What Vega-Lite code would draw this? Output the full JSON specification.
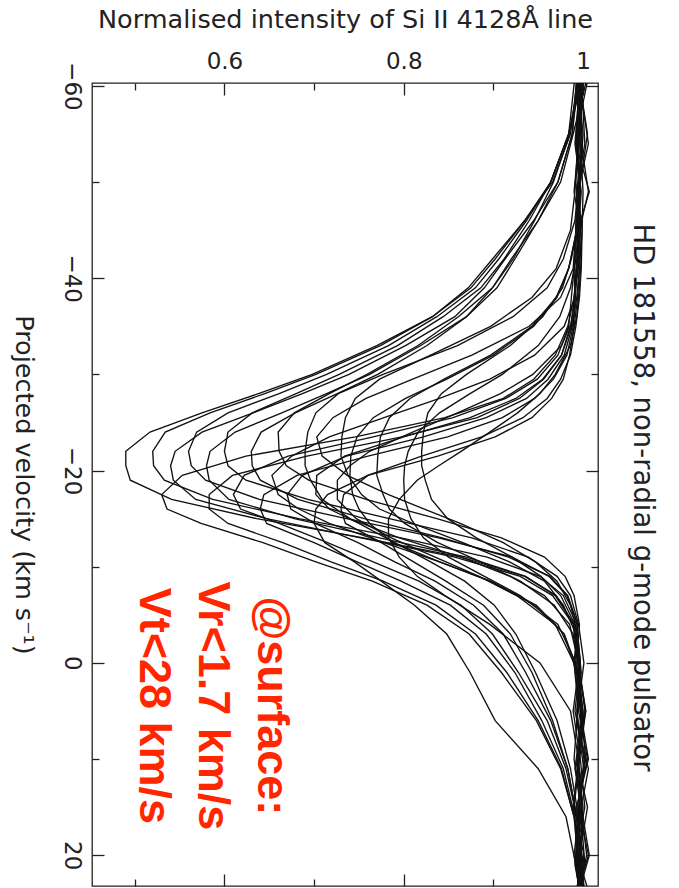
{
"$schema": "https://vega.github.io/schema/vega-lite/v6.json",
"width": 506,
"height": 803,
"autosize": {"type": "none"},
"padding": {"left": 92, "top": 83, "right": 81, "bottom": 2},
"background": "white",
"config": {
  "view": {"stroke": "#222", "strokeWidth": 1.3},
  "axis": {"domain": false, "grid": false, "labelFont": "DejaVu Sans", "titleFont": "DejaVu Sans", "labelColor": "#222", "titleColor": "#222", "tickColor": "#222", "tickWidth": 1.3, "labelFontSize": 23, "titleFontSize": 25, "titleFontWeight": "normal", "labelFlush": false, "labelOverlap": false}
},
"layer": [
{
  "data": {"values": [
{"s":"P1","v":-61,"i":0.994},{"s":"P1","v":-55,"i":0.986},{"s":"P1","v":-50,"i":0.966},{"s":"P1","v":-46,"i":0.935},{"s":"P1","v":-42,"i":0.899},{"s":"P1","v":-39,"i":0.872},{"s":"P1","v":-36,"i":0.832},{"s":"P1","v":-33,"i":0.77},{"s":"P1","v":-30,"i":0.698},{"s":"P1","v":-28,"i":0.638},{"s":"P1","v":-26,"i":0.575},{"s":"P1","v":-24,"i":0.517},{"s":"P1","v":-22,"i":0.49},{"s":"P1","v":-20.5,"i":0.49},{"s":"P1","v":-19,"i":0.495},{"s":"P1","v":-17,"i":0.541},{"s":"P1","v":-15,"i":0.636},{"s":"P1","v":-13,"i":0.755},{"s":"P1","v":-11,"i":0.864},{"s":"P1","v":-9,"i":0.935},{"s":"P1","v":-7,"i":0.97},{"s":"P1","v":-4,"i":0.99},{"s":"P1","v":0,"i":0.995},{"s":"P1","v":5,"i":1.003},{"s":"P1","v":10,"i":0.993},{"s":"P1","v":15,"i":1.005},{"s":"P1","v":20,"i":0.996},{"s":"P1","v":24,"i":0.998},
{"s":"P2","v":-61,"i":0.999},{"s":"P2","v":-55,"i":0.984},{"s":"P2","v":-50,"i":0.964},{"s":"P2","v":-46,"i":0.935},{"s":"P2","v":-42,"i":0.902},{"s":"P2","v":-39,"i":0.875},{"s":"P2","v":-36,"i":0.832},{"s":"P2","v":-33,"i":0.774},{"s":"P2","v":-30,"i":0.702},{"s":"P2","v":-28,"i":0.645},{"s":"P2","v":-26,"i":0.584},{"s":"P2","v":-24,"i":0.534},{"s":"P2","v":-22,"i":0.52},{"s":"P2","v":-20.5,"i":0.521},{"s":"P2","v":-19,"i":0.533},{"s":"P2","v":-17,"i":0.587},{"s":"P2","v":-15,"i":0.683},{"s":"P2","v":-13,"i":0.797},{"s":"P2","v":-11,"i":0.893},{"s":"P2","v":-9,"i":0.952},{"s":"P2","v":-7,"i":0.978},{"s":"P2","v":-4,"i":0.993},{"s":"P2","v":0,"i":0.997},{"s":"P2","v":5,"i":0.991},{"s":"P2","v":10,"i":1.002},{"s":"P2","v":15,"i":0.995},{"s":"P2","v":20,"i":1.006},{"s":"P2","v":24,"i":0.993},
{"s":"P3","v":-61,"i":0.993},{"s":"P3","v":-55,"i":0.988},{"s":"P3","v":-50,"i":0.972},{"s":"P3","v":-46,"i":0.945},{"s":"P3","v":-42,"i":0.913},{"s":"P3","v":-39,"i":0.89},{"s":"P3","v":-36,"i":0.857},{"s":"P3","v":-33,"i":0.802},{"s":"P3","v":-30,"i":0.739},{"s":"P3","v":-28,"i":0.687},{"s":"P3","v":-26,"i":0.632},{"s":"P3","v":-24,"i":0.575},{"s":"P3","v":-22,"i":0.545},{"s":"P3","v":-20.5,"i":0.54},{"s":"P3","v":-19,"i":0.543},{"s":"P3","v":-17,"i":0.568},{"s":"P3","v":-15,"i":0.647},{"s":"P3","v":-13,"i":0.752},{"s":"P3","v":-11,"i":0.857},{"s":"P3","v":-9,"i":0.93},{"s":"P3","v":-7,"i":0.966},{"s":"P3","v":-4,"i":0.989},{"s":"P3","v":0,"i":0.994},{"s":"P3","v":5,"i":1.003},{"s":"P3","v":10,"i":0.996},{"s":"P3","v":15,"i":0.99},{"s":"P3","v":20,"i":1.001},{"s":"P3","v":24,"i":0.997},
{"s":"P4","v":-61,"i":0.997},{"s":"P4","v":-55,"i":0.984},{"s":"P4","v":-50,"i":0.964},{"s":"P4","v":-46,"i":0.937},{"s":"P4","v":-42,"i":0.906},{"s":"P4","v":-39,"i":0.88},{"s":"P4","v":-36,"i":0.837},{"s":"P4","v":-33,"i":0.783},{"s":"P4","v":-30,"i":0.714},{"s":"P4","v":-28,"i":0.661},{"s":"P4","v":-26,"i":0.604},{"s":"P4","v":-24,"i":0.569},{"s":"P4","v":-22,"i":0.56},{"s":"P4","v":-20.5,"i":0.563},{"s":"P4","v":-19,"i":0.579},{"s":"P4","v":-17,"i":0.639},{"s":"P4","v":-15,"i":0.736},{"s":"P4","v":-13,"i":0.839},{"s":"P4","v":-11,"i":0.921},{"s":"P4","v":-9,"i":0.962},{"s":"P4","v":-7,"i":0.982},{"s":"P4","v":-4,"i":0.994},{"s":"P4","v":0,"i":0.99},{"s":"P4","v":5,"i":0.997},{"s":"P4","v":10,"i":1.006},{"s":"P4","v":15,"i":0.993},{"s":"P4","v":20,"i":0.998},{"s":"P4","v":24,"i":1.0},
{"s":"P5","v":-61,"i":1.005},{"s":"P5","v":-55,"i":0.989},{"s":"P5","v":-50,"i":0.975},{"s":"P5","v":-46,"i":0.95},{"s":"P5","v":-42,"i":0.92},{"s":"P5","v":-39,"i":0.899},{"s":"P5","v":-36,"i":0.87},{"s":"P5","v":-33,"i":0.819},{"s":"P5","v":-30,"i":0.762},{"s":"P5","v":-28,"i":0.714},{"s":"P5","v":-26,"i":0.664},{"s":"P5","v":-24,"i":0.612},{"s":"P5","v":-22,"i":0.584},{"s":"P5","v":-20.5,"i":0.58},{"s":"P5","v":-19,"i":0.583},{"s":"P5","v":-17,"i":0.605},{"s":"P5","v":-15,"i":0.678},{"s":"P5","v":-13,"i":0.773},{"s":"P5","v":-11,"i":0.87},{"s":"P5","v":-9,"i":0.936},{"s":"P5","v":-7,"i":0.969},{"s":"P5","v":-4,"i":0.99},{"s":"P5","v":0,"i":0.996},{"s":"P5","v":5,"i":0.989},{"s":"P5","v":10,"i":0.997},{"s":"P5","v":15,"i":1.002},{"s":"P5","v":20,"i":0.992},{"s":"P5","v":24,"i":0.996},
{"s":"P6","v":-61,"i":0.991},{"s":"P6","v":-55,"i":0.984},{"s":"P6","v":-50,"i":0.964},{"s":"P6","v":-46,"i":0.94},{"s":"P6","v":-42,"i":0.912},{"s":"P6","v":-39,"i":0.886},{"s":"P6","v":-36,"i":0.844},{"s":"P6","v":-33,"i":0.793},{"s":"P6","v":-30,"i":0.728},{"s":"P6","v":-28,"i":0.68},{"s":"P6","v":-26,"i":0.631},{"s":"P6","v":-24,"i":0.604},{"s":"P6","v":-22,"i":0.6},{"s":"P6","v":-20.5,"i":0.604},{"s":"P6","v":-19,"i":0.624},{"s":"P6","v":-17,"i":0.693},{"s":"P6","v":-15,"i":0.784},{"s":"P6","v":-13,"i":0.876},{"s":"P6","v":-11,"i":0.939},{"s":"P6","v":-9,"i":0.971},{"s":"P6","v":-7,"i":0.986},{"s":"P6","v":-4,"i":0.995},{"s":"P6","v":0,"i":1.001},{"s":"P6","v":5,"i":0.994},{"s":"P6","v":10,"i":0.99},{"s":"P6","v":15,"i":0.998},{"s":"P6","v":20,"i":1.004},{"s":"P6","v":24,"i":0.995},
{"s":"P7","v":-61,"i":0.995},{"s":"P7","v":-55,"i":0.988},{"s":"P7","v":-50,"i":0.972},{"s":"P7","v":-46,"i":0.95},{"s":"P7","v":-42,"i":0.924},{"s":"P7","v":-39,"i":0.904},{"s":"P7","v":-36,"i":0.87},{"s":"P7","v":-33,"i":0.826},{"s":"P7","v":-30,"i":0.771},{"s":"P7","v":-28,"i":0.726},{"s":"P7","v":-26,"i":0.679},{"s":"P7","v":-24,"i":0.641},{"s":"P7","v":-22,"i":0.63},{"s":"P7","v":-20.5,"i":0.631},{"s":"P7","v":-19,"i":0.64},{"s":"P7","v":-17,"i":0.682},{"s":"P7","v":-15,"i":0.756},{"s":"P7","v":-13,"i":0.843},{"s":"P7","v":-11,"i":0.917},{"s":"P7","v":-9,"i":0.963},{"s":"P7","v":-7,"i":0.983},{"s":"P7","v":-4,"i":0.994},{"s":"P7","v":0,"i":0.991},{"s":"P7","v":5,"i":1.0},{"s":"P7","v":10,"i":0.995},{"s":"P7","v":15,"i":0.989},{"s":"P7","v":20,"i":0.997},{"s":"P7","v":24,"i":1.002},
{"s":"P8","v":-61,"i":0.999},{"s":"P8","v":-55,"i":0.985},{"s":"P8","v":-50,"i":0.967},{"s":"P8","v":-46,"i":0.946},{"s":"P8","v":-42,"i":0.922},{"s":"P8","v":-39,"i":0.899},{"s":"P8","v":-36,"i":0.861},{"s":"P8","v":-33,"i":0.816},{"s":"P8","v":-30,"i":0.759},{"s":"P8","v":-28,"i":0.717},{"s":"P8","v":-26,"i":0.678},{"s":"P8","v":-24,"i":0.66},{"s":"P8","v":-22,"i":0.661},{"s":"P8","v":-20.5,"i":0.669},{"s":"P8","v":-19,"i":0.694},{"s":"P8","v":-17,"i":0.758},{"s":"P8","v":-15,"i":0.837},{"s":"P8","v":-13,"i":0.909},{"s":"P8","v":-11,"i":0.957},{"s":"P8","v":-9,"i":0.98},{"s":"P8","v":-7,"i":0.99},{"s":"P8","v":-4,"i":0.996},{"s":"P8","v":0,"i":0.993},{"s":"P8","v":5,"i":0.998},{"s":"P8","v":10,"i":1.003},{"s":"P8","v":15,"i":0.996},{"s":"P8","v":20,"i":0.99},{"s":"P8","v":24,"i":0.997},
{"s":"Q1","v":-61,"i":0.996},{"s":"Q1","v":-54,"i":0.992},{"s":"Q1","v":-49,"i":1.007},{"s":"Q1","v":-45,"i":0.994},{"s":"Q1","v":-41,"i":0.993},{"s":"Q1","v":-38,"i":0.99},{"s":"Q1","v":-35,"i":0.983},{"s":"Q1","v":-32,"i":0.969},{"s":"Q1","v":-29.5,"i":0.945},{"s":"Q1","v":-27.5,"i":0.911},{"s":"Q1","v":-25.5,"i":0.846},{"s":"Q1","v":-23.5,"i":0.746},{"s":"Q1","v":-21.5,"i":0.624},{"s":"Q1","v":-19.5,"i":0.553},{"s":"Q1","v":-17.5,"i":0.53},{"s":"Q1","v":-16,"i":0.536},{"s":"Q1","v":-14.5,"i":0.574},{"s":"Q1","v":-12.5,"i":0.643},{"s":"Q1","v":-10.5,"i":0.702},{"s":"Q1","v":-8.5,"i":0.765},{"s":"Q1","v":-6,"i":0.826},{"s":"Q1","v":-3,"i":0.873},{"s":"Q1","v":1,"i":0.909},{"s":"Q1","v":6,"i":0.948},{"s":"Q1","v":11,"i":0.975},{"s":"Q1","v":16,"i":0.99},{"s":"Q1","v":21,"i":0.995},{"s":"Q1","v":24,"i":0.999},
{"s":"Q2","v":-61,"i":0.998},{"s":"Q2","v":-54,"i":1.002},{"s":"Q2","v":-49,"i":0.993},{"s":"Q2","v":-45,"i":0.997},{"s":"Q2","v":-41,"i":0.992},{"s":"Q2","v":-38,"i":0.991},{"s":"Q2","v":-35,"i":0.986},{"s":"Q2","v":-32,"i":0.976},{"s":"Q2","v":-29.5,"i":0.956},{"s":"Q2","v":-27.5,"i":0.929},{"s":"Q2","v":-25.5,"i":0.882},{"s":"Q2","v":-23.5,"i":0.798},{"s":"Q2","v":-21.5,"i":0.692},{"s":"Q2","v":-19.5,"i":0.609},{"s":"Q2","v":-17.5,"i":0.583},{"s":"Q2","v":-16,"i":0.583},{"s":"Q2","v":-14.5,"i":0.604},{"s":"Q2","v":-12.5,"i":0.665},{"s":"Q2","v":-10.5,"i":0.719},{"s":"Q2","v":-8.5,"i":0.777},{"s":"Q2","v":-6,"i":0.836},{"s":"Q2","v":-3,"i":0.88},{"s":"Q2","v":1,"i":0.915},{"s":"Q2","v":6,"i":0.95},{"s":"Q2","v":11,"i":0.976},{"s":"Q2","v":16,"i":0.99},{"s":"Q2","v":21,"i":1.001},{"s":"Q2","v":24,"i":0.996},
{"s":"Q3","v":-61,"i":0.994},{"s":"Q3","v":-54,"i":0.999},{"s":"Q3","v":-49,"i":0.996},{"s":"Q3","v":-45,"i":0.992},{"s":"Q3","v":-41,"i":0.99},{"s":"Q3","v":-38,"i":0.987},{"s":"Q3","v":-35,"i":0.984},{"s":"Q3","v":-32,"i":0.972},{"s":"Q3","v":-29.5,"i":0.949},{"s":"Q3","v":-27.5,"i":0.914},{"s":"Q3","v":-25.5,"i":0.855},{"s":"Q3","v":-23.5,"i":0.766},{"s":"Q3","v":-21.5,"i":0.671},{"s":"Q3","v":-19.5,"i":0.622},{"s":"Q3","v":-17.5,"i":0.61},{"s":"Q3","v":-16,"i":0.618},{"s":"Q3","v":-14.5,"i":0.661},{"s":"Q3","v":-12.5,"i":0.715},{"s":"Q3","v":-10.5,"i":0.766},{"s":"Q3","v":-8.5,"i":0.817},{"s":"Q3","v":-6,"i":0.864},{"s":"Q3","v":-3,"i":0.899},{"s":"Q3","v":1,"i":0.928},{"s":"Q3","v":6,"i":0.96},{"s":"Q3","v":11,"i":0.981},{"s":"Q3","v":16,"i":0.993},{"s":"Q3","v":21,"i":0.995},{"s":"Q3","v":24,"i":1.002},
{"s":"Q4","v":-61,"i":1.001},{"s":"Q4","v":-54,"i":0.995},{"s":"Q4","v":-49,"i":0.99},{"s":"Q4","v":-45,"i":0.997},{"s":"Q4","v":-41,"i":0.993},{"s":"Q4","v":-38,"i":0.991},{"s":"Q4","v":-35,"i":0.989},{"s":"Q4","v":-32,"i":0.982},{"s":"Q4","v":-29.5,"i":0.967},{"s":"Q4","v":-27.5,"i":0.946},{"s":"Q4","v":-25.5,"i":0.91},{"s":"Q4","v":-23.5,"i":0.849},{"s":"Q4","v":-21.5,"i":0.76},{"s":"Q4","v":-19.5,"i":0.681},{"s":"Q4","v":-17.5,"i":0.644},{"s":"Q4","v":-16,"i":0.64},{"s":"Q4","v":-14.5,"i":0.647},{"s":"Q4","v":-12.5,"i":0.7},{"s":"Q4","v":-10.5,"i":0.748},{"s":"Q4","v":-8.5,"i":0.797},{"s":"Q4","v":-6,"i":0.852},{"s":"Q4","v":-3,"i":0.892},{"s":"Q4","v":1,"i":0.924},{"s":"Q4","v":6,"i":0.954},{"s":"Q4","v":11,"i":0.978},{"s":"Q4","v":16,"i":0.991},{"s":"Q4","v":21,"i":0.993},{"s":"Q4","v":24,"i":0.998},
{"s":"Q5","v":-61,"i":0.992},{"s":"Q5","v":-54,"i":0.997},{"s":"Q5","v":-49,"i":1.0},{"s":"Q5","v":-45,"i":0.999},{"s":"Q5","v":-41,"i":0.996},{"s":"Q5","v":-38,"i":0.993},{"s":"Q5","v":-35,"i":0.988},{"s":"Q5","v":-32,"i":0.979},{"s":"Q5","v":-29.5,"i":0.961},{"s":"Q5","v":-27.5,"i":0.937},{"s":"Q5","v":-25.5,"i":0.892},{"s":"Q5","v":-23.5,"i":0.822},{"s":"Q5","v":-21.5,"i":0.736},{"s":"Q5","v":-19.5,"i":0.687},{"s":"Q5","v":-17.5,"i":0.67},{"s":"Q5","v":-16,"i":0.674},{"s":"Q5","v":-14.5,"i":0.701},{"s":"Q5","v":-12.5,"i":0.749},{"s":"Q5","v":-10.5,"i":0.79},{"s":"Q5","v":-8.5,"i":0.835},{"s":"Q5","v":-6,"i":0.878},{"s":"Q5","v":-3,"i":0.911},{"s":"Q5","v":1,"i":0.936},{"s":"Q5","v":6,"i":0.964},{"s":"Q5","v":11,"i":0.983},{"s":"Q5","v":16,"i":0.993},{"s":"Q5","v":21,"i":1.0},{"s":"Q5","v":24,"i":0.994},
{"s":"Q6","v":-61,"i":0.997},{"s":"Q6","v":-54,"i":0.991},{"s":"Q6","v":-49,"i":0.998},{"s":"Q6","v":-45,"i":0.995},{"s":"Q6","v":-41,"i":0.994},{"s":"Q6","v":-38,"i":0.99},{"s":"Q6","v":-35,"i":0.987},{"s":"Q6","v":-32,"i":0.976},{"s":"Q6","v":-29.5,"i":0.955},{"s":"Q6","v":-27.5,"i":0.925},{"s":"Q6","v":-25.5,"i":0.874},{"s":"Q6","v":-23.5,"i":0.8},{"s":"Q6","v":-21.5,"i":0.734},{"s":"Q6","v":-19.5,"i":0.703},{"s":"Q6","v":-17.5,"i":0.702},{"s":"Q6","v":-16,"i":0.717},{"s":"Q6","v":-14.5,"i":0.75},{"s":"Q6","v":-12.5,"i":0.79},{"s":"Q6","v":-10.5,"i":0.83},{"s":"Q6","v":-8.5,"i":0.868},{"s":"Q6","v":-6,"i":0.901},{"s":"Q6","v":-3,"i":0.925},{"s":"Q6","v":1,"i":0.947},{"s":"Q6","v":6,"i":0.971},{"s":"Q6","v":11,"i":0.986},{"s":"Q6","v":16,"i":0.995},{"s":"Q6","v":21,"i":0.991},{"s":"Q6","v":24,"i":0.997},
{"s":"Q7","v":-61,"i":0.995},{"s":"Q7","v":-54,"i":1.006},{"s":"Q7","v":-49,"i":0.994},{"s":"Q7","v":-45,"i":0.999},{"s":"Q7","v":-41,"i":0.998},{"s":"Q7","v":-38,"i":0.996},{"s":"Q7","v":-35,"i":0.992},{"s":"Q7","v":-32,"i":0.986},{"s":"Q7","v":-29.5,"i":0.975},{"s":"Q7","v":-27.5,"i":0.96},{"s":"Q7","v":-25.5,"i":0.933},{"s":"Q7","v":-23.5,"i":0.887},{"s":"Q7","v":-21.5,"i":0.82},{"s":"Q7","v":-19.5,"i":0.76},{"s":"Q7","v":-17.5,"i":0.733},{"s":"Q7","v":-16,"i":0.73},{"s":"Q7","v":-14.5,"i":0.735},{"s":"Q7","v":-12.5,"i":0.775},{"s":"Q7","v":-10.5,"i":0.811},{"s":"Q7","v":-8.5,"i":0.847},{"s":"Q7","v":-6,"i":0.889},{"s":"Q7","v":-3,"i":0.919},{"s":"Q7","v":1,"i":0.943},{"s":"Q7","v":6,"i":0.966},{"s":"Q7","v":11,"i":0.983},{"s":"Q7","v":16,"i":0.993},{"s":"Q7","v":21,"i":0.998},{"s":"Q7","v":24,"i":0.992},
{"s":"Q8","v":-61,"i":0.999},{"s":"Q8","v":-54,"i":0.994},{"s":"Q8","v":-49,"i":0.997},{"s":"Q8","v":-45,"i":0.992},{"s":"Q8","v":-41,"i":0.996},{"s":"Q8","v":-38,"i":0.994},{"s":"Q8","v":-35,"i":0.99},{"s":"Q8","v":-32,"i":0.985},{"s":"Q8","v":-29.5,"i":0.978},{"s":"Q8","v":-27.5,"i":0.965},{"s":"Q8","v":-25.5,"i":0.943},{"s":"Q8","v":-23.5,"i":0.902},{"s":"Q8","v":-21.5,"i":0.838},{"s":"Q8","v":-19.5,"i":0.76},{"s":"Q8","v":-17.5,"i":0.715},{"s":"Q8","v":-16,"i":0.702},{"s":"Q8","v":-14.5,"i":0.7},{"s":"Q8","v":-12.5,"i":0.712},{"s":"Q8","v":-10.5,"i":0.745},{"s":"Q8","v":-8.5,"i":0.775},{"s":"Q8","v":-6,"i":0.812},{"s":"Q8","v":-3,"i":0.848},{"s":"Q8","v":1,"i":0.874},{"s":"Q8","v":6,"i":0.902},{"s":"Q8","v":11,"i":0.95},{"s":"Q8","v":16,"i":0.981},{"s":"Q8","v":21,"i":0.992},{"s":"Q8","v":24,"i":0.996},
{"s":"T1","v":-61,"i":0.995},{"s":"T1","v":-55,"i":1.005},{"s":"T1","v":-50,"i":0.997},{"s":"T1","v":-46,"i":0.995},{"s":"T1","v":-42,"i":0.987},{"s":"T1","v":-39,"i":0.977},{"s":"T1","v":-36,"i":0.955},{"s":"T1","v":-33,"i":0.919},{"s":"T1","v":-30,"i":0.87},{"s":"T1","v":-28,"i":0.842},{"s":"T1","v":-26,"i":0.827},{"s":"T1","v":-24,"i":0.822},{"s":"T1","v":-22,"i":0.82},{"s":"T1","v":-20.5,"i":0.82},{"s":"T1","v":-19,"i":0.824},{"s":"T1","v":-17,"i":0.831},{"s":"T1","v":-15,"i":0.849},{"s":"T1","v":-13,"i":0.881},{"s":"T1","v":-11,"i":0.921},{"s":"T1","v":-9,"i":0.953},{"s":"T1","v":-7,"i":0.975},{"s":"T1","v":-4,"i":0.991},{"s":"T1","v":0,"i":0.997},{"s":"T1","v":5,"i":0.993},{"s":"T1","v":10,"i":1.001},{"s":"T1","v":15,"i":0.996},{"s":"T1","v":20,"i":0.994},{"s":"T1","v":24,"i":0.999},
{"s":"T5","v":-61,"i":0.998},{"s":"T5","v":-55,"i":0.996},{"s":"T5","v":-50,"i":0.995},{"s":"T5","v":-46,"i":0.991},{"s":"T5","v":-42,"i":0.978},{"s":"T5","v":-39,"i":0.96},{"s":"T5","v":-36,"i":0.922},{"s":"T5","v":-33,"i":0.86},{"s":"T5","v":-30,"i":0.777},{"s":"T5","v":-28,"i":0.727},{"s":"T5","v":-26,"i":0.702},{"s":"T5","v":-24,"i":0.693},{"s":"T5","v":-22,"i":0.69},{"s":"T5","v":-20.5,"i":0.69},{"s":"T5","v":-19,"i":0.696},{"s":"T5","v":-17,"i":0.709},{"s":"T5","v":-15,"i":0.74},{"s":"T5","v":-13,"i":0.795},{"s":"T5","v":-11,"i":0.864},{"s":"T5","v":-9,"i":0.919},{"s":"T5","v":-7,"i":0.957},{"s":"T5","v":-4,"i":0.985},{"s":"T5","v":0,"i":0.995},{"s":"T5","v":5,"i":1.002},{"s":"T5","v":10,"i":0.994},{"s":"T5","v":15,"i":0.998},{"s":"T5","v":20,"i":1.007},{"s":"T5","v":24,"i":0.995},
{"s":"T2","v":-61,"i":0.997},{"s":"T2","v":-54,"i":0.993},{"s":"T2","v":-49,"i":0.997},{"s":"T2","v":-45,"i":0.993},{"s":"T2","v":-41,"i":0.984},{"s":"T2","v":-38,"i":0.97},{"s":"T2","v":-35,"i":0.943},{"s":"T2","v":-32,"i":0.897},{"s":"T2","v":-29.5,"i":0.845},{"s":"T2","v":-27.5,"i":0.807},{"s":"T2","v":-25.5,"i":0.784},{"s":"T2","v":-23.5,"i":0.774},{"s":"T2","v":-21.5,"i":0.771},{"s":"T2","v":-19.5,"i":0.77},{"s":"T2","v":-17.5,"i":0.777},{"s":"T2","v":-16,"i":0.784},{"s":"T2","v":-14.5,"i":0.801},{"s":"T2","v":-12.5,"i":0.838},{"s":"T2","v":-10.5,"i":0.886},{"s":"T2","v":-8.5,"i":0.93},{"s":"T2","v":-6,"i":0.968},{"s":"T2","v":-3,"i":0.989},{"s":"T2","v":1,"i":0.996},{"s":"T2","v":6,"i":1.0},{"s":"T2","v":11,"i":0.992},{"s":"T2","v":16,"i":0.998},{"s":"T2","v":21,"i":1.002},{"s":"T2","v":24,"i":0.995},
{"s":"T3","v":-61,"i":0.999},{"s":"T3","v":-54,"i":0.994},{"s":"T3","v":-49,"i":0.991},{"s":"T3","v":-45,"i":0.986},{"s":"T3","v":-41,"i":0.97},{"s":"T3","v":-38,"i":0.943},{"s":"T3","v":-35,"i":0.897},{"s":"T3","v":-32,"i":0.83},{"s":"T3","v":-29.5,"i":0.773},{"s":"T3","v":-27.5,"i":0.746},{"s":"T3","v":-25.5,"i":0.735},{"s":"T3","v":-23.5,"i":0.731},{"s":"T3","v":-21.5,"i":0.73},{"s":"T3","v":-19.5,"i":0.738},{"s":"T3","v":-17.5,"i":0.753},{"s":"T3","v":-16,"i":0.773},{"s":"T3","v":-14.5,"i":0.81},{"s":"T3","v":-12.5,"i":0.866},{"s":"T3","v":-10.5,"i":0.918},{"s":"T3","v":-8.5,"i":0.957},{"s":"T3","v":-6,"i":0.978},{"s":"T3","v":-3,"i":0.992},{"s":"T3","v":1,"i":0.997},{"s":"T3","v":6,"i":0.993},{"s":"T3","v":11,"i":1.001},{"s":"T3","v":16,"i":0.994},{"s":"T3","v":21,"i":0.997},{"s":"T3","v":24,"i":1.007},
{"s":"T4","v":-61,"i":1.006},{"s":"T4","v":-55,"i":0.993},{"s":"T4","v":-50,"i":0.996},{"s":"T4","v":-46,"i":0.992},{"s":"T4","v":-42,"i":0.992},{"s":"T4","v":-39,"i":0.986},{"s":"T4","v":-36,"i":0.974},{"s":"T4","v":-33,"i":0.95},{"s":"T4","v":-30,"i":0.91},{"s":"T4","v":-28,"i":0.874},{"s":"T4","v":-26,"i":0.84},{"s":"T4","v":-24,"i":0.816},{"s":"T4","v":-22,"i":0.805},{"s":"T4","v":-20.5,"i":0.801},{"s":"T4","v":-19,"i":0.8},{"s":"T4","v":-17,"i":0.801},{"s":"T4","v":-15,"i":0.808},{"s":"T4","v":-13,"i":0.822},{"s":"T4","v":-11,"i":0.85},{"s":"T4","v":-9,"i":0.89},{"s":"T4","v":-7,"i":0.93},{"s":"T4","v":-4,"i":0.972},{"s":"T4","v":0,"i":0.992},{"s":"T4","v":5,"i":0.998},{"s":"T4","v":10,"i":0.994},{"s":"T4","v":15,"i":1.0},{"s":"T4","v":20,"i":0.997},{"s":"T4","v":24,"i":0.993},
{"s":"T6","v":-61,"i":0.996},{"s":"T6","v":-54,"i":0.999},{"s":"T6","v":-49,"i":0.993},{"s":"T6","v":-45,"i":0.993},{"s":"T6","v":-41,"i":0.984},{"s":"T6","v":-38,"i":0.971},{"s":"T6","v":-35,"i":0.945},{"s":"T6","v":-32,"i":0.9},{"s":"T6","v":-29.5,"i":0.848},{"s":"T6","v":-27.5,"i":0.802},{"s":"T6","v":-25.5,"i":0.766},{"s":"T6","v":-23.5,"i":0.748},{"s":"T6","v":-21.5,"i":0.741},{"s":"T6","v":-19.5,"i":0.74},{"s":"T6","v":-17.5,"i":0.743},{"s":"T6","v":-16,"i":0.75},{"s":"T6","v":-14.5,"i":0.762},{"s":"T6","v":-12.5,"i":0.788},{"s":"T6","v":-10.5,"i":0.84},{"s":"T6","v":-8.5,"i":0.897},{"s":"T6","v":-6,"i":0.948},{"s":"T6","v":-3,"i":0.979},{"s":"T6","v":1,"i":0.995},{"s":"T6","v":6,"i":1.001},{"s":"T6","v":11,"i":0.994},{"s":"T6","v":16,"i":0.997},{"s":"T6","v":21,"i":0.992},{"s":"T6","v":24,"i":0.998},
{"s":"U1","v":-61,"i":0.993},{"s":"U1","v":-54,"i":0.998},{"s":"U1","v":-49,"i":1.006},{"s":"U1","v":-45,"i":0.996},{"s":"U1","v":-41,"i":0.99},{"s":"U1","v":-38,"i":0.991},{"s":"U1","v":-35,"i":0.979},{"s":"U1","v":-32,"i":0.946},{"s":"U1","v":-29.5,"i":0.896},{"s":"U1","v":-27.5,"i":0.84},{"s":"U1","v":-25.5,"i":0.778},{"s":"U1","v":-23.5,"i":0.717},{"s":"U1","v":-21.5,"i":0.675},{"s":"U1","v":-19.5,"i":0.653},{"s":"U1","v":-17.5,"i":0.66},{"s":"U1","v":-16,"i":0.683},{"s":"U1","v":-14.5,"i":0.717},{"s":"U1","v":-12.5,"i":0.778},{"s":"U1","v":-10.5,"i":0.84},{"s":"U1","v":-8.5,"i":0.896},{"s":"U1","v":-6,"i":0.946},{"s":"U1","v":-3,"i":0.979},{"s":"U1","v":1,"i":0.993},{"s":"U1","v":6,"i":0.998},{"s":"U1","v":11,"i":0.991},{"s":"U1","v":16,"i":1.0},{"s":"U1","v":21,"i":0.995},{"s":"U1","v":24,"i":0.999},
{"s":"U2","v":-61,"i":1.001},{"s":"U2","v":-55,"i":0.995},{"s":"U2","v":-50,"i":0.992},{"s":"U2","v":-46,"i":0.997},{"s":"U2","v":-42,"i":0.996},{"s":"U2","v":-39,"i":0.992},{"s":"U2","v":-36,"i":0.99},{"s":"U2","v":-33,"i":0.976},{"s":"U2","v":-30,"i":0.944},{"s":"U2","v":-28,"i":0.908},{"s":"U2","v":-26,"i":0.86},{"s":"U2","v":-24,"i":0.81},{"s":"U2","v":-22,"i":0.762},{"s":"U2","v":-20.5,"i":0.74},{"s":"U2","v":-19,"i":0.726},{"s":"U2","v":-17,"i":0.726},{"s":"U2","v":-15,"i":0.747},{"s":"U2","v":-13,"i":0.786},{"s":"U2","v":-11,"i":0.835},{"s":"U2","v":-9,"i":0.884},{"s":"U2","v":-7,"i":0.926},{"s":"U2","v":-4,"i":0.969},{"s":"U2","v":0,"i":0.99},{"s":"U2","v":5,"i":0.995},{"s":"U2","v":10,"i":1.005},{"s":"U2","v":15,"i":0.993},{"s":"U2","v":20,"i":0.998},{"s":"U2","v":24,"i":0.994},
{"s":"U3","v":-61,"i":0.997},{"s":"U3","v":-54,"i":0.992},{"s":"U3","v":-49,"i":0.996},{"s":"U3","v":-45,"i":0.992},{"s":"U3","v":-41,"i":0.989},{"s":"U3","v":-38,"i":0.975},{"s":"U3","v":-35,"i":0.94},{"s":"U3","v":-32,"i":0.876},{"s":"U3","v":-29.5,"i":0.81},{"s":"U3","v":-27.5,"i":0.758},{"s":"U3","v":-25.5,"i":0.721},{"s":"U3","v":-23.5,"i":0.703},{"s":"U3","v":-21.5,"i":0.709},{"s":"U3","v":-19.5,"i":0.737},{"s":"U3","v":-17.5,"i":0.783},{"s":"U3","v":-16,"i":0.823},{"s":"U3","v":-14.5,"i":0.863},{"s":"U3","v":-12.5,"i":0.911},{"s":"U3","v":-10.5,"i":0.947},{"s":"U3","v":-8.5,"i":0.971},{"s":"U3","v":-6,"i":0.986},{"s":"U3","v":-3,"i":0.994},{"s":"U3","v":1,"i":0.998},{"s":"U3","v":6,"i":0.993},{"s":"U3","v":11,"i":1.006},{"s":"U3","v":16,"i":0.996},{"s":"U3","v":21,"i":0.994},{"s":"U3","v":24,"i":1.0},
{"s":"U4","v":-61,"i":0.994},{"s":"U4","v":-55,"i":1.0},{"s":"U4","v":-50,"i":0.997},{"s":"U4","v":-46,"i":0.995},{"s":"U4","v":-42,"i":0.998},{"s":"U4","v":-39,"i":0.996},{"s":"U4","v":-36,"i":0.993},{"s":"U4","v":-33,"i":0.986},{"s":"U4","v":-30,"i":0.969},{"s":"U4","v":-28,"i":0.952},{"s":"U4","v":-26,"i":0.927},{"s":"U4","v":-24,"i":0.896},{"s":"U4","v":-22,"i":0.864},{"s":"U4","v":-20.5,"i":0.839},{"s":"U4","v":-19,"i":0.815},{"s":"U4","v":-17,"i":0.795},{"s":"U4","v":-15,"i":0.783},{"s":"U4","v":-13,"i":0.783},{"s":"U4","v":-11,"i":0.795},{"s":"U4","v":-9,"i":0.815},{"s":"U4","v":-7,"i":0.846},{"s":"U4","v":-4,"i":0.896},{"s":"U4","v":0,"i":0.952},{"s":"U4","v":5,"i":0.986},{"s":"U4","v":10,"i":0.995},{"s":"U4","v":15,"i":0.999},{"s":"U4","v":20,"i":0.993},{"s":"U4","v":24,"i":0.997}
  ]},
  "mark": {"type": "line", "color": "#111", "strokeWidth": 1.35, "clip": true},
  "encoding": {
    "x": {"field": "i", "type": "quantitative",
      "scale": {"domain": [0.4523, 1.0167], "nice": false, "zero": false},
      "axis": {"orient": "top", "values": [0.5, 0.6, 0.7, 0.8, 0.9, 1], "format": ".1~f",
        "labelExpr": "abs(datum.value-0.6)<0.01 || abs(datum.value-0.8)<0.01 || abs(datum.value-1)<0.01 ? datum.label : ''",
        "tickSize": {"condition": {"test": "abs(datum.value-0.6)<0.01 || abs(datum.value-0.8)<0.01 || abs(datum.value-1)<0.01", "value": -12}, "value": -7},
        "labelPadding": 22, "title": "Normalised intensity of Si II 4128Å line", "titleFontSize": 25.5, "titlePadding": 13}},
    "y": {"field": "v", "type": "quantitative",
      "scale": {"domain": [-60.3, 23.2], "nice": false, "zero": false, "reverse": true},
      "axis": {"orient": "left", "values": [-60, -50, -40, -30, -20, -10, 0, 10, 20],
        "labelExpr": "datum.value % 20 === 0 ? datum.label : ''",
        "tickSize": {"condition": {"test": "datum.value % 20 === 0", "value": -12}, "value": -7},
        "labelAngle": 90, "labelAlign": "center", "labelBaseline": "top", "labelPadding": 22,
        "title": "Projected velocity (km s⁻¹)", "titleFontSize": 25.5, "titleAngle": 90, "titleBaseline": "top", "titlePadding": 19}},
    "detail": {"field": "s", "type": "nominal"},
    "order": {"field": "v", "type": "quantitative"}
  }
},
{
  "data": {"values": [{"note": "surface"}]},
  "mark": {"type": "text", "text": ["@surface:", "Vr<1.7 km/s", "Vt<28 km/s"], "angle": 90, "align": "center", "baseline": "alphabetic", "font": "Liberation Sans", "fontWeight": "bold", "fontSize": 45, "lineHeight": 59, "color": "#ff2600"},
  "encoding": {
    "x": {"datum": 0.6377, "type": "quantitative",
      "axis": {"orient": "bottom", "values": [0.5, 0.6, 0.7, 0.8, 0.9, 1], "labels": false, "title": null,
        "tickSize": {"condition": {"test": "abs(datum.value-0.6)<0.01 || abs(datum.value-0.8)<0.01 || abs(datum.value-1)<0.01", "value": -12}, "value": -7}}},
    "y": {"datum": 4.47, "type": "quantitative",
      "axis": {"orient": "right", "values": [-60, -50, -40, -30, -20, -10, 0, 10, 20], "labels": false,
        "tickSize": {"condition": {"test": "datum.value % 20 === 0", "value": -12}, "value": -7},
        "title": "HD 181558, non-radial g-mode pulsator", "titleFontSize": 27.5, "titleAngle": 90, "titleAlign": "center", "titleBaseline": "bottom", "titleX": 29, "titleY": 414}}
  }
}
],
"resolve": {"axis": {"x": "independent", "y": "independent"}}
}
